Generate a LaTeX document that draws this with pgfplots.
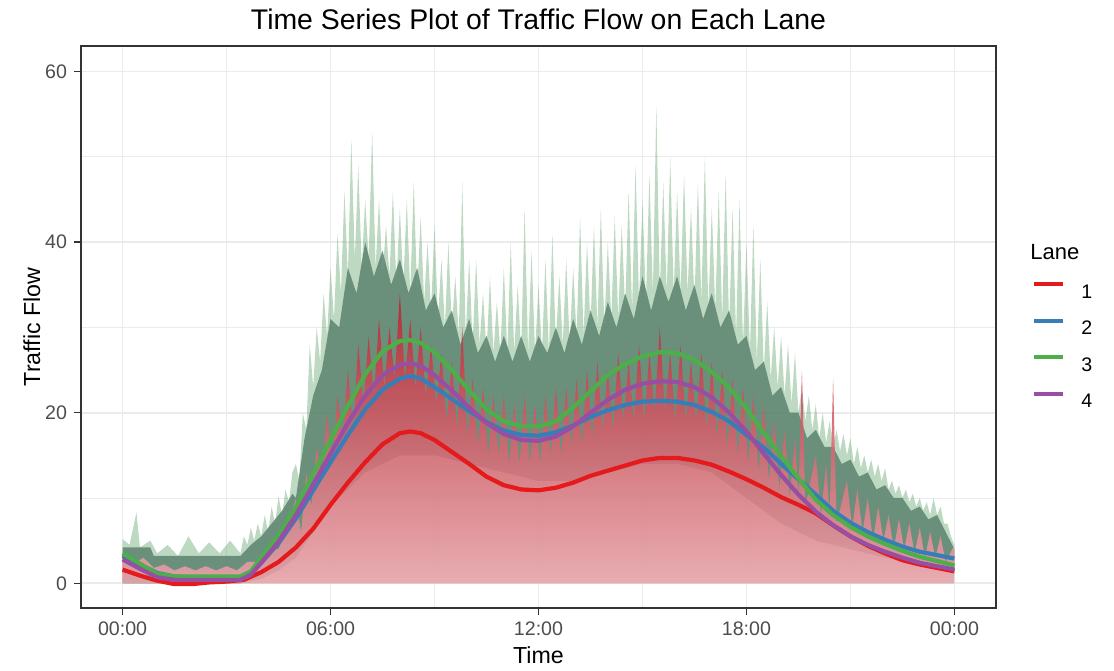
\documentclass[border=0pt]{standalone}
\usepackage{pgfplots}
\pgfplotsset{compat=1.18}
\usepackage{fontspec}
\setmainfont{Liberation Sans}

\definecolor{laneA}{HTML}{E41A1C}
\definecolor{laneB}{HTML}{377EB8}
\definecolor{laneC}{HTML}{4DAF4A}
\definecolor{laneD}{HTML}{984EA3}
\definecolor{gridgrey}{HTML}{EBEBEB}
\definecolor{grey30}{HTML}{4D4D4D}
\definecolor{grey20}{HTML}{333333}
\definecolor{bodycol}{RGB}{92,132,112}
\definecolor{spikecol}{RGB}{100,165,110}
\definecolor{redtop}{RGB}{190,30,45}
\definecolor{redmid}{RGB}{215,60,75}
\definecolor{redbot}{RGB}{240,165,175}

\begin{document}
\begin{tikzpicture}
\useasboundingbox (-40.5pt,-31pt) rectangle (516.5pt,304pt);
\begin{axis}[
  scale only axis, width=457.5pt, height=281pt,
  clip mode=individual,
  xmin=-1.2, xmax=25.2, ymin=-2.9, ymax=63.0,
  xtick={0,6,12,18,24}, xticklabels={00:00,06:00,12:00,18:00,00:00},
  minor xtick={3,9,15,21},
  ytick={0,20,40,60}, minor ytick={10,30,50},
  grid=both,
  major grid style={draw=gridgrey, line width=0.8pt},
  minor grid style={draw=gridgrey, line width=0.45pt},
  tick align=outside, major tick length=3.5pt, minor tick length=0pt,
  tick style={draw=grey20, line width=0.7pt},
  xtick pos=lower, ytick pos=left,
  axis line style={draw=grey20, line width=1pt},
  ticklabel style={font=\fontsize{9.8}{11}\selectfont, text=grey30},
  /pgf/number format/assume math mode=true,
  xlabel={Time}, ylabel={Traffic Flow},
  title={Time Series Plot of Traffic Flow on Each Lane},
  label style={font=\fontsize{11.6}{13}\selectfont},
  xlabel style={at={(axis description cs:0.5,-0.0836)}, anchor=center},
  ylabel style={at={(axis description cs:-0.0536,0.5)}, anchor=center},
  title style={at={(axis description cs:0.5,1.0253)}, anchor=center, font=\fontsize{14.2}{16}\selectfont},
  legend style={draw=none, fill=none, at={(axis description cs:1.0393,0.468)}, anchor=west,
    inner sep=0pt, row sep=10.2pt, column sep=8pt, font=\fontsize{9.8}{11}\selectfont,
    nodes={inner sep=0pt, text height=7pt, text depth=0pt}},
  legend cell align=left,
  legend image code/.code={\draw[#1, line width=2pt] (0pt,3.5pt) -- (14.5pt,3.5pt);},
]

% spike tops of the raw per-minute flows
\addplot[forget plot, draw=none, fill=spikecol, fill opacity=0.42] coordinates {
(0,0) (0,5.2) (0.2,4.5) (0.4,8.3) (0.5,4.2) (0.8,5.0) (1.0,3.5) (1.3,4.5) (1.6,3.2) (1.9,5.5) (2.2,3.5) (2.5,4.8) (2.8,3.5) (3.1,5.0) (3.4,3.5) (3.5,5.5) (3.6,4.5) (3.7,6.5) (3.8,5) (3.9,7) (4.0,5.5) (4.1,8) (4.2,6) (4.3,9) (4.4,7) (4.5,10.2) (4.6,8) (4.7,11) (4.8,9.5) (4.9,13)
(5.0,14)(5.1,12)(5.2,20)(5.3,18)(5.4,28)(5.5,23)(5.6,30)(5.7,26)(5.8,34)(5.9,29)(6.0,37)(6.1,31)(6.2,41)(6.3,34)(6.4,46)(6.5,36)(6.6,52)(6.7,38)(6.8,49)(6.9,37)(7.0,45)(7.1,38)(7.2,53)(7.3,37)(7.4,45)(7.5,36)(7.6,42)(7.7,36)(7.8,46)(7.9,35)(8.0,44)(8.1,35)(8.2,45)(8.3,34)(8.4,47)(8.5,34)(8.6,43)(8.7,33)(8.8,40)(8.9,32)(9.0,42)(9.1,31)(9.2,38)(9.3,30)(9.4,40)(9.5,30)(9.6,36)(9.7,29)(9.8,47)(9.9,29)(10.0,38)(10.1,28)(10.2,38)(10.3,28)(10.4,34)(10.5,27)(10.6,36)(10.7,27)(10.8,33)(10.9,27)(11.0,37)(11.1,27)(11.2,40)(11.3,27)(11.4,35)(11.5,27)(11.6,44)(11.7,27)(11.8,39)(11.9,27)(12.0,35)(12.1,27)(12.2,38)(12.3,27)(12.4,41)(12.5,28)(12.6,36)(12.7,28)(12.8,38)(12.9,28)(13.0,37)(13.1,29)(13.2,43)(13.3,29)(13.4,40)(13.5,30)(13.6,42)(13.7,30)(13.8,44)(13.9,30)(14.0,40)(14.1,31)(14.2,43)(14.3,31)(14.4,42)(14.5,32)(14.6,46)(14.7,32)(14.8,49)(14.9,33)(15.0,45)(15.1,33)(15.2,48)(15.3,34)(15.4,56)(15.5,34)(15.6,47)(15.7,34)(15.8,50)(15.9,34)(16.0,46)(16.1,34)(16.2,48)(16.3,34)(16.4,44)(16.5,33)(16.6,47)(16.7,33)(16.8,50)(16.9,32)(17.0,44)(17.1,32)(17.2,46)(17.3,31)(17.4,48)(17.5,30)(17.6,44)(17.7,29)(17.8,45)(17.9,28)(18.0,40)(18.1,27)(18.2,42)(18.3,26)(18.4,38)(18.5,25)(18.6,33)(18.7,24)(18.8,30)(18.9,23)(19.0,29)(19.1,22)(19.2,28)(19.3,21)(19.4,27)(19.5,20)(19.6,23)(19.7,19)(19.8,22)(19.9,18)(20.0,21)(20.1,17)(20.2,20)(20.3,16.5)(20.4,19)(20.5,16)(20.6,18)(20.7,15.5)(20.8,17.5)(20.9,15)(21.0,17)(21.1,14)(21.2,16)(21.3,13.5)(21.4,15)(21.5,13)(21.6,14.5)(21.7,12.5)(21.8,14)(21.9,12)(22.0,13.5)(22.1,11)(22.2,12)(22.3,10.5)(22.4,11.5)(22.5,10)(22.6,11)(22.7,9.5)(22.8,10.5)(22.9,9)(23.0,10)(23.1,8.5)(23.2,9.5)(23.3,8)(23.4,10)(23.5,8)(23.6,9)(23.7,7)(23.8,7)(23.9,5.5)(24.0,4.5)(24,0)
};

% dense band of lanes 2-4
\addplot[forget plot, draw=none, fill=bodycol, fill opacity=0.85] coordinates {
(0,4.2)(0.8,4.2)(0.9,3.2)(3.4,3.2)(3.7,4.5)(4.0,5.5)(4.3,7)(4.6,8.5)(4.9,10.5)(5.0,10)(5.25,17)(5.5,22)(5.75,25)(6.0,31)(6.25,30)(6.5,37)(6.75,34)(7.0,40)(7.25,36)(7.5,39)(7.75,35)(8.0,38)(8.25,34)(8.5,37)(8.75,32)(9.0,34)(9.25,30)(9.5,32)(9.75,28)(10.0,31)(10.25,27)(10.5,29)(10.75,26)(11.0,29)(11.25,26)(11.5,29)(11.75,26)(12.0,29)(12.25,27)(12.5,30)(12.75,27)(13.0,31)(13.25,28)(13.5,32)(13.75,29)(14.0,33)(14.25,30)(14.5,34)(14.75,31)(15.0,36)(15.25,32)(15.5,36)(15.75,33)(16.0,36)(16.25,32)(16.5,35)(16.75,31)(17.0,34)(17.25,30)(17.5,32)(17.75,28)(18.0,29)(18.25,25)(18.5,26)(18.75,22)(19.0,23)(19.25,20)(19.5,20)(19.75,17)(20.0,18)(20.25,16)(20.5,16)(20.75,14)(21.0,14.5)(21.25,12.5)(21.5,13)(21.75,11)(22.0,11.5)(22.25,10)(22.5,10)(22.75,8.5)(23.0,9)(23.25,7.5)(23.5,8)(23.75,6)(24.0,4)
(24,1.5)(22,3)(20,5)(19,7)(18,10)(17,13)(16,14)(15,14)(14,13)(13,12)(12,12)(11,13)(10,14)(9,15)(8,15)(7,13)(6,9)(5.5,6)(5,3)(4.5,1.5)(4,0.5)(3.4,0)(0,0)
} -- cycle;

% lane 1 raw flows
\addplot[forget plot, draw=none, top color=redtop, middle color=redmid, bottom color=redbot, fill opacity=0.85] coordinates {
(0,0)(0,2.8)(0.3,2.2)(0.6,3)(0.9,1.8)(1.2,2.2)(1.5,1.5)(1.8,2)(2.1,1.5)(2.4,2)(2.7,1.5)(3.0,2)(3.3,1.5)(3.6,2.5)(3.9,2.5)(4.2,4)(4.5,4)(4.8,7)(5.0,10)(5.15,6)(5.3,13)(5.45,9)(5.6,16)(5.75,12)(5.9,20)(6.05,14)(6.2,22)(6.35,17)(6.5,25)(6.65,18)(6.8,28)(6.95,21)(7.1,29)(7.25,22)(7.4,31)(7.55,23)(7.7,30)(7.85,24)(8.0,34)(8.15,24)(8.3,31)(8.45,23)(8.6,30)(8.75,22)(8.9,28)(9.05,21)(9.2,27)(9.35,19)(9.5,26)(9.65,18)(9.8,30)(9.95,17)(10.1,24)(10.25,16)(10.4,23)(10.55,15)(10.7,22)(10.85,15)(11.0,22)(11.15,14)(11.3,21)(11.45,14)(11.6,22)(11.75,14)(11.9,21)(12.05,14)(12.2,22)(12.35,15)(12.5,23)(12.65,15)(12.8,23)(12.95,16)(13.1,24)(13.25,16)(13.4,25)(13.55,17)(13.7,26)(13.85,18)(14.0,25)(14.15,18)(14.3,27)(14.45,19)(14.6,26)(14.75,19)(14.9,28)(15.05,19)(15.2,27)(15.35,20)(15.5,30)(15.65,20)(15.8,27)(15.95,19)(16.1,28)(16.25,19)(16.4,26)(16.55,19)(16.7,27)(16.85,18)(17.0,26)(17.15,17)(17.3,25)(17.45,16)(17.6,24)(17.75,15)(17.9,23)(18.05,14)(18.2,22)(18.35,13)(18.5,21)(18.65,12)(18.8,19)(18.95,11)(19.1,18)(19.25,10)(19.4,17)(19.5,10)(19.6,25)(19.7,9)(20.0,15)(20.15,8)(20.3,14)(20.4,8)(20.5,24)(20.6,7)(20.9,12)(21.05,6.5)(21.2,11)(21.35,6)(21.5,10)(21.65,5)(21.8,9)(21.95,5)(22.1,8)(22.25,4)(22.4,7.5)(22.55,4)(22.7,7)(22.85,3.5)(23.0,6.5)(23.15,3)(23.3,6)(23.45,3)(23.6,5.5)(23.75,2.5)(24.0,4.5)(24,0)
};

% smoothed flow per lane
\addplot[laneA, line width=2.1pt, line join=round] coordinates {
(0,1.6)(0.5,0.9)(1.0,0.3)(1.5,-0.1)(2.0,-0.1)(2.5,0.1)(3.0,0.2)(3.5,0.4)(4.0,1.3)(4.5,2.5)(5.0,4.2)(5.5,6.4)(6.0,9.2)(6.5,11.8)(7.0,14.2)(7.5,16.3)(8.0,17.6)(8.3,17.8)(8.6,17.6)(9.0,16.8)(9.5,15.4)(10.0,14.0)(10.5,12.5)(11.0,11.5)(11.5,11.0)(12.0,10.9)(12.5,11.2)(13.0,11.8)(13.5,12.6)(14.0,13.2)(14.5,13.8)(15.0,14.4)(15.5,14.7)(16.0,14.7)(16.5,14.4)(17.0,13.9)(17.5,13.1)(18.0,12.2)(18.5,11.2)(19.0,10.1)(19.5,9.2)(20.0,8.2)(20.5,6.8)(21.0,5.5)(21.5,4.4)(22.0,3.5)(22.5,2.7)(23.0,2.2)(23.5,1.8)(24.0,1.4)
};
\addlegendentry{1}
\addplot[laneB, line width=2.1pt, line join=round] coordinates {
(0,3.2)(0.5,2.2)(1.0,1.2)(1.5,0.8)(2.0,0.7)(2.5,0.7)(3.0,0.7)(3.4,0.7)(3.7,1.2)(4.0,2.4)(4.5,4.7)(5.0,7.6)(5.5,10.9)(6.0,14.2)(6.5,17.4)(7.0,20.4)(7.5,22.7)(8.0,24.0)(8.3,24.3)(8.6,24.0)(9.0,23.0)(9.5,21.6)(10.0,20.2)(10.5,18.9)(11.0,17.9)(11.5,17.4)(12.0,17.3)(12.5,17.7)(13.0,18.5)(13.5,19.5)(14.0,20.3)(14.5,20.9)(15.0,21.3)(15.5,21.4)(16.0,21.3)(16.5,20.9)(17.0,20.1)(17.5,19.0)(18.0,17.4)(18.5,15.9)(19.0,14.0)(19.5,12.2)(20.0,10.4)(20.5,8.5)(21.0,7.1)(21.5,6.0)(22.0,5.1)(22.5,4.3)(23.0,3.7)(23.5,3.3)(24.0,2.9)
};
\addlegendentry{2}
\addplot[laneC, line width=2.1pt, line join=round] coordinates {
(0,3.5)(0.5,2.3)(1.0,1.1)(1.5,0.8)(2.0,0.8)(2.5,0.8)(3.0,0.8)(3.4,0.8)(3.7,1.4)(4.0,3.0)(4.5,5.6)(5.0,8.9)(5.5,12.8)(6.0,16.8)(6.5,20.8)(7.0,24.5)(7.5,27.2)(8.0,28.4)(8.3,28.5)(8.6,28.2)(9.0,27.1)(9.5,25.0)(10.0,22.6)(10.5,20.4)(11.0,19.0)(11.5,18.4)(12.0,18.4)(12.5,19.0)(13.0,20.6)(13.5,22.5)(14.0,24.4)(14.5,25.7)(15.0,26.6)(15.5,27.1)(16.0,27.0)(16.5,26.2)(17.0,24.8)(17.5,22.9)(18.0,20.5)(18.5,17.6)(19.0,14.9)(19.5,12.3)(20.0,9.8)(20.5,8.0)(21.0,6.6)(21.5,5.5)(22.0,4.6)(22.5,3.8)(23.0,3.1)(23.5,2.6)(24.0,2.1)
};
\addlegendentry{3}
\addplot[laneD, line width=2.1pt, line join=round] coordinates {
(0,2.8)(0.5,1.7)(1.0,0.7)(1.5,0.4)(2.0,0.4)(2.5,0.4)(3.0,0.4)(3.4,0.4)(3.7,1.0)(4.0,2.4)(4.5,4.9)(5.0,8.0)(5.5,11.6)(6.0,15.2)(6.5,18.8)(7.0,22.0)(7.5,24.4)(8.0,25.6)(8.3,25.8)(8.6,25.5)(9.0,24.4)(9.5,22.6)(10.0,20.6)(10.5,18.8)(11.0,17.5)(11.5,16.8)(12.0,16.7)(12.5,17.2)(13.0,18.4)(13.5,20.0)(14.0,21.5)(14.5,22.7)(15.0,23.4)(15.5,23.7)(16.0,23.6)(16.5,23.0)(17.0,21.8)(17.5,20.0)(18.0,17.8)(18.5,15.2)(19.0,12.7)(19.5,10.4)(20.0,8.4)(20.5,6.8)(21.0,5.5)(21.5,4.5)(22.0,3.7)(22.5,3.0)(23.0,2.4)(23.5,2.0)(24.0,1.6)
};
\addlegendentry{4}

\node[anchor=west, inner sep=0pt, font=\fontsize{11}{13}\selectfont] at (axis description cs:1.0372,0.6335) {Lane};
\end{axis}
\end{tikzpicture}
\end{document}
